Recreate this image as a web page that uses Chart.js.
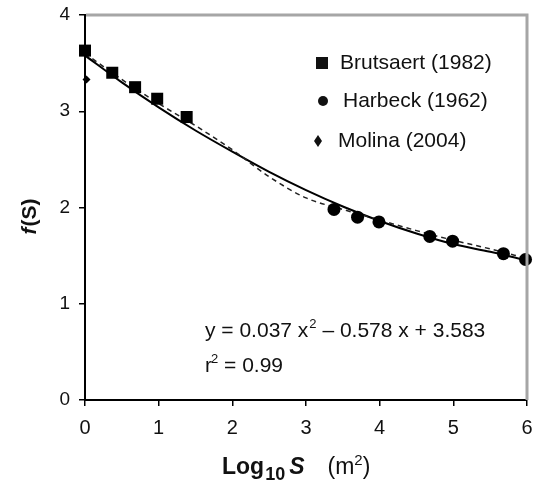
<!DOCTYPE html>
<html lang="en">
<head>
<meta charset="UTF-8">
<title>f(S) vs Log10 S</title>
<script src="https://cdn.jsdelivr.net/npm/chart.js"></script>
<style>
  html, body { margin: 0; padding: 0; background: #fff; }
  #wrap { width: 533px; height: 486px; }
</style>
</head>
<body>
<div id="wrap"><canvas id="fsChart" width="533" height="486"></canvas></div>
<script>
const brutsaertX = [0, 0.37, 0.68, 0.98, 1.38];
const brutsaertY = [3.63, 3.40, 3.25, 3.13, 2.94];
const harbeckX = [3.38, 3.70, 3.99, 4.68, 4.99, 5.68, 5.98];
const harbeckY = [1.98, 1.90, 1.85, 1.70, 1.65, 1.52, 1.46];
const molinaX = [0.02];
const molinaY = [3.33];

// fitted curve (solid) and dashed curve, read at half steps
const curveX = [0, 0.5, 1, 1.5, 2, 2.5, 3, 3.5, 4, 4.5, 5, 5.5, 6];
const fitY = [3.58, 3.30, 3.04, 2.80, 2.58, 2.37, 2.18, 2.01, 1.86, 1.73, 1.62, 1.54, 1.45];
const dashY = [3.60, 3.33, 3.08, 2.85, 2.60, 2.32, 2.10, 1.98, 1.87, 1.76, 1.66, 1.57, 1.47];

const xTicks = [0, 1, 2, 3, 4, 5, 6];
const yTicks = [0, 1, 2, 3, 4];

const legendNames = ['Brutsaert (1982)', 'Harbeck (1962)', 'Molina (2004)'];
const eqLine = 'y = 0.037 x';
const eqRest = ' \u2013 0.578 x + 3.583';
const r2Text = ' = 0.99';

function pts(xs, ys) {
  return xs.map((x, i) => ({ x: x, y: ys[i] }));
}

const FONT = "'Liberation Sans', Arial, sans-serif";

// borders, legend, equation and axis titles
const extras = {
  id: 'extras',
  afterDraw(chart) {
    const c = chart.ctx;
    const a = chart.chartArea;
    c.save();
    // gray frame top and right
    c.strokeStyle = '#a6a6a6';
    c.lineWidth = 3;
    c.beginPath();
    c.moveTo(a.left + 1, a.top);
    c.lineTo(a.right, a.top);
    c.lineTo(a.right, a.bottom);
    c.stroke();

    c.fillStyle = '#111';
    c.textBaseline = 'middle';
    c.textAlign = 'left';
    c.font = '21px ' + FONT;
    // legend
    c.fillRect(316, 57, 12, 12);
    c.fillText(legendNames[0], 340, 63);
    c.beginPath();
    c.arc(323, 101, 5, 0, Math.PI * 2);
    c.fill();
    c.fillText(legendNames[1], 343, 101);
    c.beginPath();
    c.moveTo(318, 135); c.lineTo(322, 141); c.lineTo(318, 147); c.lineTo(314, 141);
    c.closePath();
    c.fill();
    c.fillText(legendNames[2], 338, 141);

    // equation
    c.textBaseline = 'alphabetic';
    c.font = '21px ' + FONT;
    let x = 205;
    c.fillText(eqLine, x, 337);
    x += c.measureText(eqLine).width;
    c.font = '13px ' + FONT;
    c.fillText('2', x + 1, 328);
    x += c.measureText('2').width + 1;
    c.font = '21px ' + FONT;
    c.fillText(eqRest, x, 337);
    x = 205;
    c.fillText('r', x, 372);
    x += c.measureText('r').width;
    c.font = '13px ' + FONT;
    c.fillText('2', x - 1, 363);
    x += c.measureText('2').width - 1;
    c.font = '21px ' + FONT;
    c.fillText(r2Text, x, 372);

    // x title
    x = 222;
    c.font = 'bold 23px ' + FONT;
    c.fillText('Log', x, 474);
    x += c.measureText('Log').width;
    c.font = 'bold 18px ' + FONT;
    c.fillText('10', x + 1, 480);
    x += c.measureText('10').width + 5;
    c.font = 'italic bold 23px ' + FONT;
    c.fillText('S', x, 474);
    x += c.measureText('S').width + 23;
    c.font = '23px ' + FONT;
    c.fillText('(m', x, 474);
    x += c.measureText('(m').width;
    c.font = '15px ' + FONT;
    c.fillText('2', x, 465);
    x += c.measureText('2').width;
    c.font = '23px ' + FONT;
    c.fillText(')', x, 474);

    // y title
    c.translate(36, 217);
    c.rotate(-Math.PI / 2);
    c.textAlign = 'left';
    c.font = 'italic bold 21px ' + FONT;
    const fw = c.measureText('f').width;
    c.font = 'bold 21px ' + FONT;
    const sw = c.measureText('(S)').width;
    let tx = -(fw + sw) / 2;
    c.font = 'italic bold 21px ' + FONT;
    c.fillText('f', tx, 0);
    c.font = 'bold 21px ' + FONT;
    c.fillText('(S)', tx + fw + 1, 0);
    c.restore();
  }
};

const chart = new Chart(document.getElementById('fsChart'), {
  type: 'scatter',
  data: {
    datasets: [
      { label: legendNames[0], data: pts(brutsaertX, brutsaertY), pointStyle: 'rect', pointRadius: 8.5,
        backgroundColor: '#000', borderColor: '#000', borderWidth: 0, clip: false, order: 0 },
      { label: legendNames[1], data: pts(harbeckX, harbeckY), pointStyle: 'circle', pointRadius: 6.5,
        backgroundColor: '#000', borderColor: '#000', borderWidth: 0, clip: false, order: 0 },
      { label: legendNames[2], data: pts(molinaX, molinaY), pointStyle: 'rectRot', pointRadius: 4,
        backgroundColor: '#000', borderColor: '#000', borderWidth: 0, clip: false, order: 0 },
      { type: 'line', label: 'fit', data: pts(curveX, fitY), borderColor: '#000', borderWidth: 2,
        pointRadius: 0, cubicInterpolationMode: 'monotone', order: 2 },
      { type: 'line', label: 'dashed', data: pts(curveX, dashY), borderColor: '#222', borderWidth: 1.5,
        borderDash: [5, 4], pointRadius: 0, cubicInterpolationMode: 'monotone', order: 1 }
    ]
  },
  options: {
    responsive: false,
    animation: false,
    layout: { padding: { top: 15, right: 6, left: 0, bottom: 0 } },
    plugins: { legend: { display: false }, tooltip: { enabled: false } },
    scales: {
      x: {
        type: 'linear', min: 0, max: 6,
        afterBuildTicks: s => { s.ticks = xTicks.map(v => ({ value: v })); },
        afterFit: s => { s.height = 86; },
        afterCalculateLabelRotation: s => { s._labelSizes = null; },
        grid: { drawOnChartArea: false, drawTicks: true, tickLength: 6, color: '#000', lineWidth: 1.5 },
        border: { color: '#000', width: 2 },
        ticks: { color: '#111', font: { family: FONT, size: 20 }, padding: 10, maxRotation: 0 }
      },
      y: {
        type: 'linear', min: 0, max: 4,
        afterBuildTicks: s => { s.ticks = yTicks.map(v => ({ value: v })); },
        afterFit: s => { s.width = 85; s.paddingTop = 0; s.paddingBottom = 0; },
        grid: { drawOnChartArea: false, drawTicks: true, tickLength: 6, color: '#000', lineWidth: 1.5 },
        border: { color: '#000', width: 2 },
        ticks: { color: '#111', font: { family: FONT, size: 19 }, padding: 9 }
      }
    }
  },
  plugins: [extras, {
    id: 'trimRight',
    // keep the plot edge near the canvas edge, as in the figure
    afterLayout(chart) {
      const s = chart.scales.x;
      const a = chart.chartArea;
      const target = chart.width - 6;
      if (a.right < target) {
        a.right = target;
        s.right = target;
        s.width = target - s.left;
        s.configure();
        chart.scales.y.bottom = a.bottom;
      }
    }
  }]
});
</script>
</body>
</html>
